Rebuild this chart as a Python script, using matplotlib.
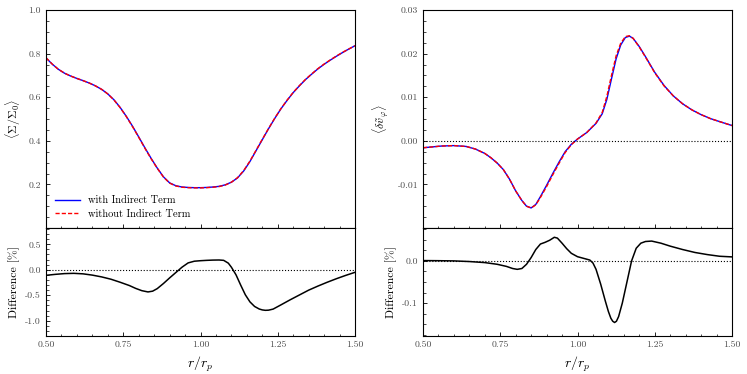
import numpy as np
import matplotlib
matplotlib.use("Agg")
import matplotlib.pyplot as plt
from matplotlib.ticker import MultipleLocator, FormatStrFormatter

plt.rcParams['font.family'] = 'serif'
plt.rcParams['font.serif'] = ['cmr10']
plt.rcParams['mathtext.fontset'] = 'cm'
plt.rcParams['axes.formatter.use_mathtext'] = True

# surface density (azimuthal average)
r_sig = [0.50, 0.52, 0.54, 0.56, 0.58, 0.60, 0.62, 0.64, 0.66, 0.68,
         0.70, 0.72, 0.74, 0.76, 0.78, 0.80, 0.82, 0.84, 0.86, 0.88,
         0.90, 0.92, 0.94, 0.96, 0.98, 1.00, 1.02, 1.04, 1.06, 1.08,
         1.10, 1.12, 1.14, 1.16, 1.18, 1.20, 1.22, 1.24, 1.26, 1.28,
         1.30, 1.32, 1.34, 1.36, 1.38, 1.40, 1.42, 1.44, 1.46, 1.48, 1.50]
sig_with = [0.780, 0.752, 0.728, 0.710, 0.697, 0.686, 0.676, 0.665, 0.652, 0.636,
            0.615, 0.588, 0.553, 0.512, 0.467, 0.418, 0.368, 0.320, 0.275, 0.235,
            0.207, 0.194, 0.188, 0.186, 0.185, 0.185, 0.186, 0.188, 0.191, 0.198,
            0.210, 0.230, 0.262, 0.305, 0.355, 0.405, 0.455, 0.502, 0.546, 0.585,
            0.621, 0.652, 0.681, 0.706, 0.730, 0.751, 0.770, 0.788, 0.805, 0.821, 0.836]
sig_without = [0.781, 0.752, 0.728, 0.710, 0.697, 0.686, 0.676, 0.665, 0.652, 0.636,
               0.615, 0.587, 0.552, 0.511, 0.465, 0.416, 0.366, 0.318, 0.274, 0.234,
               0.206, 0.193, 0.187, 0.185, 0.184, 0.184, 0.185, 0.187, 0.190, 0.197,
               0.210, 0.231, 0.264, 0.307, 0.357, 0.407, 0.456, 0.503, 0.547, 0.586,
               0.622, 0.653, 0.682, 0.707, 0.731, 0.752, 0.771, 0.789, 0.806, 0.821, 0.836]

r_dsig = [0.50, 0.53, 0.56, 0.59, 0.62, 0.65, 0.68, 0.71, 0.74, 0.77,
          0.79, 0.81, 0.83, 0.845, 0.86, 0.88, 0.90, 0.92, 0.94, 0.96,
          0.98, 1.00, 1.02, 1.04, 1.06, 1.075, 1.09, 1.10, 1.115, 1.13,
          1.145, 1.16, 1.175, 1.19, 1.20, 1.21, 1.22, 1.235, 1.26, 1.29,
          1.32, 1.35, 1.38, 1.41, 1.44, 1.47, 1.50]
dsig = [-0.109, -0.090, -0.075, -0.070, -0.080, -0.105, -0.140, -0.185, -0.245, -0.310,
        -0.365, -0.410, -0.435, -0.420, -0.370, -0.270, -0.160, -0.055, 0.050, 0.135,
        0.168, 0.178, 0.185, 0.190, 0.192, 0.185, 0.130, 0.050, -0.100, -0.300,
        -0.490, -0.630, -0.720, -0.770, -0.788, -0.796, -0.793, -0.772, -0.690, -0.590,
        -0.495, -0.400, -0.320, -0.245, -0.175, -0.110, -0.050]

# azimuthal velocity perturbation
r_vphi = [0.50, 0.53, 0.56, 0.60, 0.64, 0.67, 0.70, 0.72, 0.74, 0.76,
          0.78, 0.80, 0.82, 0.835, 0.85, 0.865, 0.88, 0.90, 0.92, 0.94,
          0.96, 0.98, 1.00, 1.03, 1.06, 1.08, 1.095, 1.11, 1.125, 1.14,
          1.155, 1.168, 1.18, 1.20, 1.22, 1.25, 1.28, 1.31, 1.34, 1.37,
          1.40, 1.43, 1.46, 1.50]
vphi_with = [-0.0016, -0.0014, -0.0012, -0.0011, -0.0013, -0.0019, -0.0029, -0.0039, -0.0051, -0.0066,
             -0.0088, -0.0115, -0.0137, -0.0150, -0.0154, -0.0146, -0.0128, -0.0102, -0.0075, -0.0049,
             -0.0025, -0.0008, 0.0004, 0.0019, 0.0040, 0.0062, 0.0095, 0.0142, 0.0188, 0.0220,
             0.0237, 0.0240, 0.0235, 0.0216, 0.0193, 0.0157, 0.0127, 0.0103, 0.0085, 0.0071,
             0.0060, 0.0051, 0.0044, 0.0035]
vphi_without = [-0.0016, -0.0014, -0.0012, -0.0011, -0.0013, -0.0019, -0.0029, -0.0039, -0.0051, -0.0066,
                -0.0088, -0.0115, -0.0137, -0.0150, -0.0154, -0.0147, -0.0130, -0.0105, -0.0078, -0.0052,
                -0.0027, -0.0009, 0.0004, 0.0019, 0.0041, 0.0065, 0.0102, 0.0150, 0.0195, 0.0224,
                0.0239, 0.0241, 0.0235, 0.0215, 0.0192, 0.0156, 0.0126, 0.0103, 0.0085, 0.0071,
                0.0060, 0.0051, 0.0044, 0.0035]

r_dv = [0.50, 0.55, 0.60, 0.65, 0.70, 0.74, 0.77, 0.79, 0.805, 0.82,
        0.835, 0.85, 0.865, 0.88, 0.895, 0.91, 0.925, 0.935, 0.95, 0.965,
        0.98, 1.00, 1.02, 1.04, 1.05, 1.06, 1.075, 1.09, 1.10, 1.108,
        1.114, 1.12, 1.126, 1.133, 1.145, 1.16, 1.175, 1.19, 1.205, 1.22,
        1.24, 1.27, 1.30, 1.34, 1.38, 1.42, 1.46, 1.50]
dv = [0.0008, 0.0005, 0.0, -0.0015, -0.004, -0.008, -0.013, -0.018, -0.020, -0.018,
      -0.008, 0.008, 0.027, 0.040, 0.044, 0.049, 0.056, 0.054, 0.042, 0.029,
      0.018, 0.010, 0.006, 0.002, -0.005, -0.020, -0.055, -0.095, -0.120, -0.136,
      -0.143, -0.146, -0.143, -0.132, -0.100, -0.050, 0.000, 0.030, 0.042, 0.046,
      0.047, 0.042, 0.035, 0.027, 0.020, 0.015, 0.011, 0.0095]

fig = plt.figure(figsize=(7.47, 3.74), dpi=100)
W, H = 747, 374


def box(x0, x1, y0, y1):
    return [x0 / W, 1 - y1 / H, (x1 - x0) / W, (y1 - y0) / H]


axL = fig.add_axes(box(46, 355, 10, 228))
axLd = fig.add_axes(box(46, 355, 228, 336), sharex=axL)
axR = fig.add_axes(box(423, 732, 10, 228))
axRd = fig.add_axes(box(423, 732, 228, 336), sharex=axR)

axL.plot(r_sig, sig_with, color='blue', lw=1.0, label='with Indirect Term')
axL.plot(r_sig, sig_without, color='red', lw=1.0, ls=(0, (3, 1.5)), label='without Indirect Term')
axL.set_ylim(0, 1.0)
axL.set_ylabel(r'$\langle\Sigma/\Sigma_0\rangle$', fontsize=8.5)
axL.yaxis.set_minor_locator(MultipleLocator(0.05))
axL.set_yticks([0.2, 0.4, 0.6, 0.8, 1.0])
axL.yaxis.set_major_formatter(FormatStrFormatter('%.1f'))
axL.legend(loc='lower left', frameon=False, fontsize=7.5, handlelength=2.4,
           borderaxespad=0.5, labelspacing=0.35, handletextpad=0.7)

axLd.plot(r_dsig, dsig, color='black', lw=1.1)
axLd.axhline(0, color='black', ls=':', lw=0.8)
axLd.set_ylim(-1.3, 0.82)
axLd.set_yticks([-1.0, -0.5, 0.0, 0.5])
axLd.yaxis.set_minor_locator(MultipleLocator(0.1))
axLd.yaxis.set_major_formatter(FormatStrFormatter('%.1f'))
axLd.set_ylabel('Difference [%]', fontsize=8.5)

axR.plot(r_vphi, vphi_with, color='blue', lw=1.0)
axR.plot(r_vphi, vphi_without, color='red', lw=1.0, ls=(0, (3, 1.5)))
axR.axhline(0, color='black', ls=':', lw=0.8)
axR.set_ylim(-0.02, 0.03)
axR.set_yticks([-0.01, 0.0, 0.01, 0.02, 0.03])
axR.yaxis.set_minor_locator(MultipleLocator(0.0025))
axR.yaxis.set_major_formatter(FormatStrFormatter('%.2f'))
axR.set_ylabel(r'$\langle\delta\tilde{v}_\varphi\rangle$', fontsize=8.5)

axRd.plot(r_dv, dv, color='black', lw=1.1)
axRd.axhline(0, color='black', ls=':', lw=0.8)
axRd.set_ylim(-0.178, 0.078)
axRd.set_yticks([-0.1, 0.0])
axRd.yaxis.set_minor_locator(MultipleLocator(0.025))
axRd.yaxis.set_major_formatter(FormatStrFormatter('%.1f'))
axRd.set_ylabel('Difference [%]', fontsize=8.5)

for ax in (axL, axLd, axR, axRd):
    ax.set_xlim(0.5, 1.5)
    ax.xaxis.set_major_locator(MultipleLocator(0.25))
    ax.xaxis.set_minor_locator(MultipleLocator(0.05))
    ax.xaxis.set_major_formatter(FormatStrFormatter('%.2f'))
    ax.tick_params(which='both', direction='in', labelsize=7, labelcolor='0.3')
    ax.tick_params(which='major', length=3.2, width=0.6)
    ax.tick_params(which='minor', length=1.8, width=0.5)
    for s in ax.spines.values():
        s.set_linewidth(0.8)

for ax in (axL, axR):
    ax.tick_params(labelbottom=False)
for ax in (axLd, axRd):
    ax.set_xlabel(r'$r/r_p$', fontsize=10)

fig.savefig('out.png', dpi=100)
